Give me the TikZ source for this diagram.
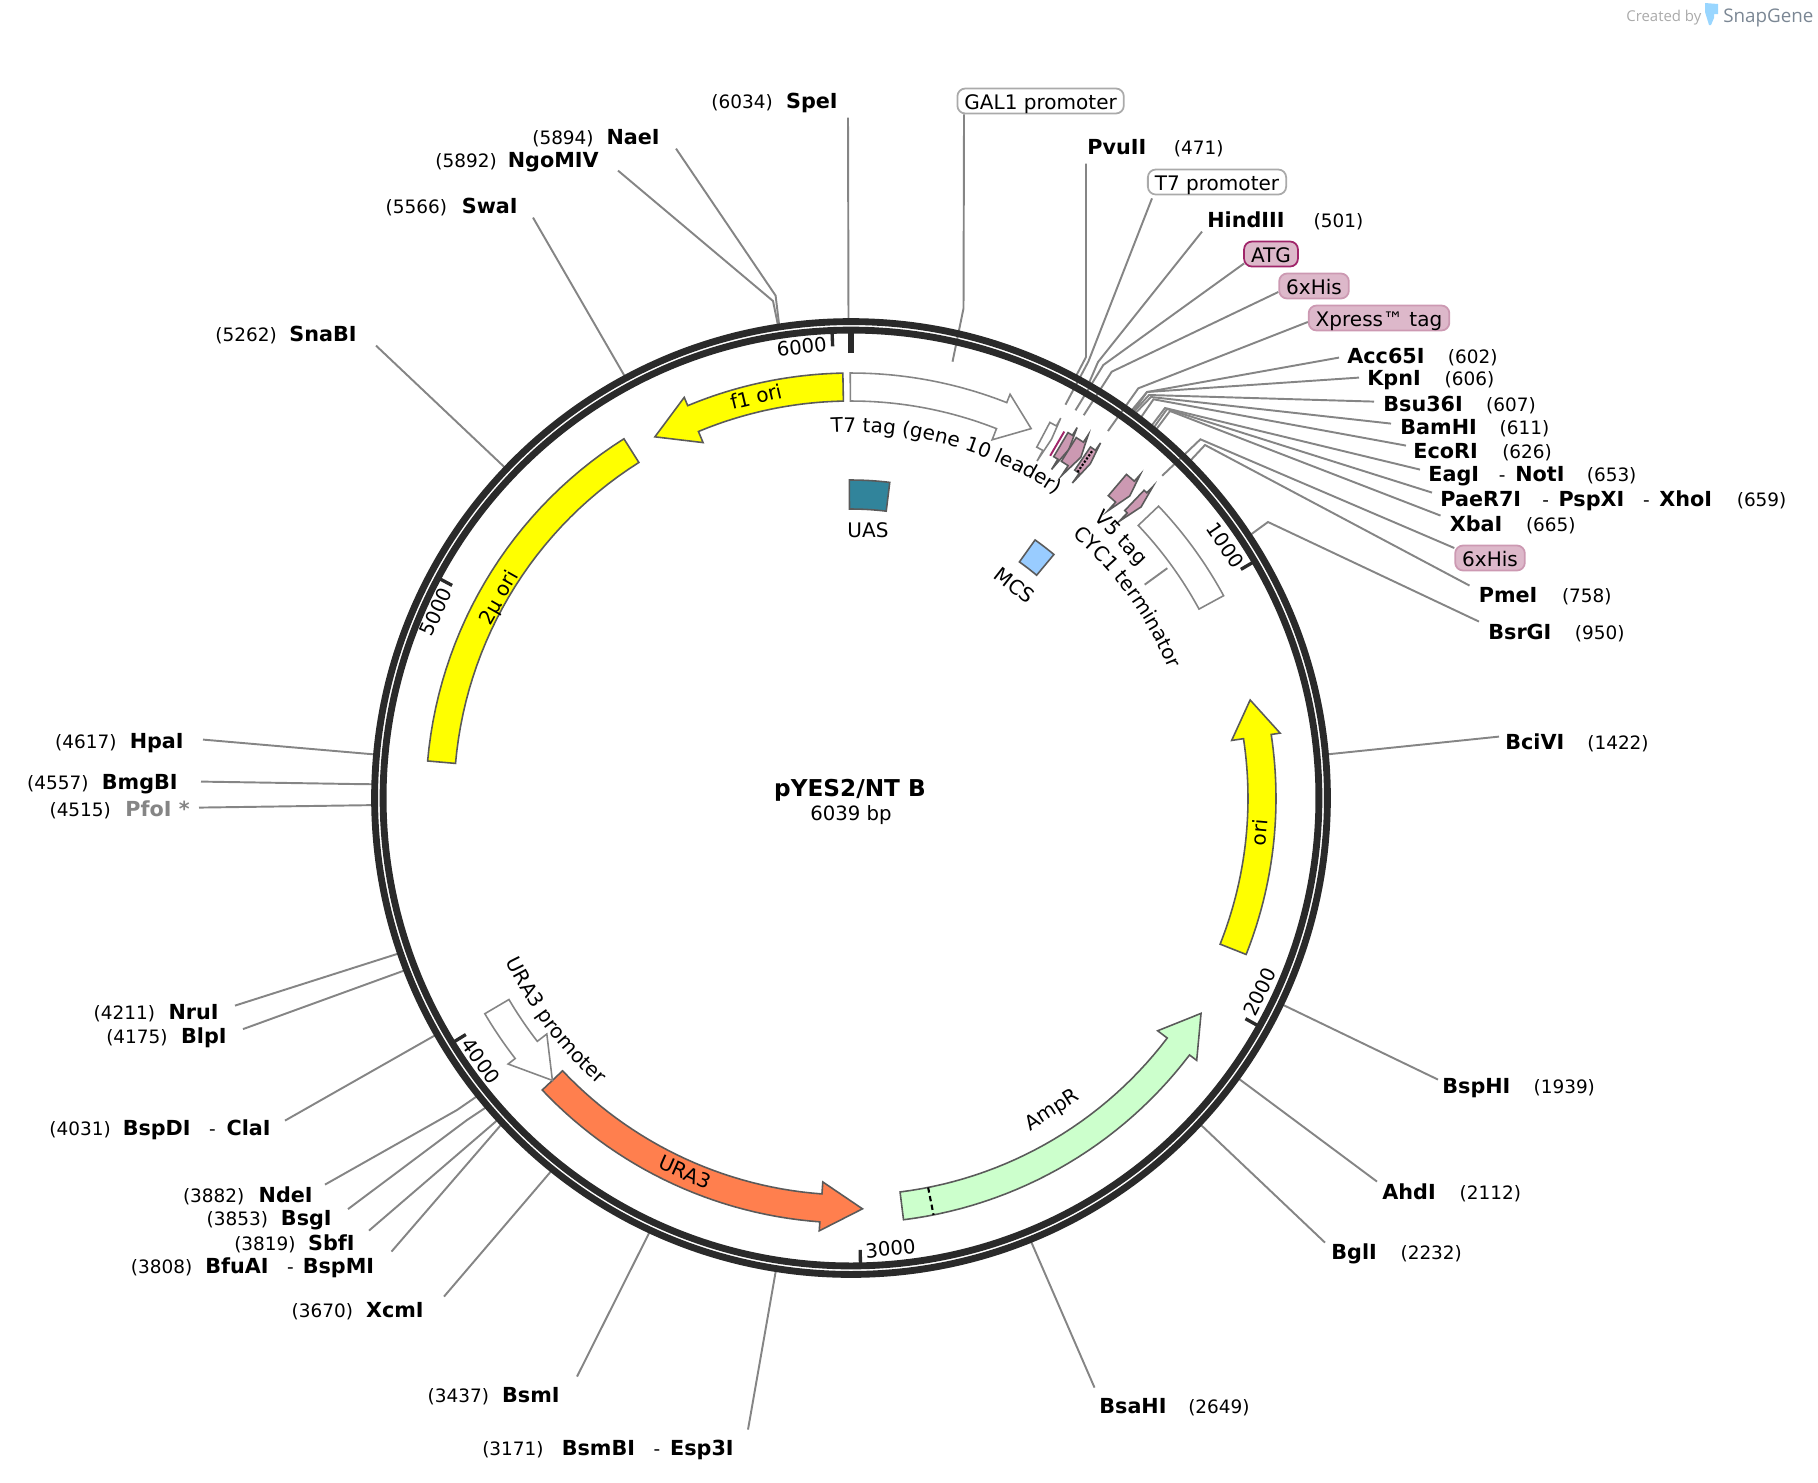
\documentclass[tikz,border=0pt]{standalone}
\usepackage{fontspec}
\setmainfont{DejaVu Sans}
\newfontfamily\logofont{Open Sans}
\usetikzlibrary{decorations.text}

% text sizes
\newcommand{\sitefont}{\fontsize{11.8}{14}\selectfont}
\newcommand{\featfont}{\fontsize{11.4}{14}\selectfont}
\newcommand{\tickfont}{\fontsize{11.2}{14}\selectfont}
\newlength{\cutwidth}
\setlength{\cutwidth}{.02319cm}
\newcommand{\nm}[2]{\makebox[#1\cutwidth][l]{\textbf{#2}}}
\newcommand{\nmr}[2]{\makebox[#1\cutwidth][r]{\textbf{#2}}}
\newcommand{\bpnum}[1]{{\fontsize{10.5}{14}\selectfont (#1)}}
\newcommand{\rgap}{\hspace{13pt}}
\newcommand{\lgap}{\hspace{7.2pt}}
\newcommand{\cutdash}{{\fontsize{10.5}{14}\selectfont\hspace{10.5pt}-\hspace{5.5pt}}}

\definecolor{ringdark}{HTML}{2A2A2A}
\definecolor{leadergray}{HTML}{858585}
\definecolor{edgegray}{HTML}{5A5A5A}
\definecolor{tagpink}{HTML}{CC99B2}
\definecolor{tagfill}{HTML}{DDB8CA}
\definecolor{atgred}{HTML}{A0256A}
\definecolor{oriyellow}{HTML}{FFFF00}
\definecolor{ampgreen}{HTML}{CCFFCC}
\definecolor{uracoral}{HTML}{FF7F4E}
\definecolor{uasteal}{HTML}{31849B}
\definecolor{mcsblue}{HTML}{99CCFF}
\definecolor{boxgray}{HTML}{AAAAAA}
\definecolor{tubeblue}{HTML}{99D6FF}
\definecolor{logogray}{HTML}{7B8794}

\tikzset{
  leader/.style={draw=leadergray, line width=1.1pt},
  ringline/.style={draw=ringdark, line width=3.9pt},
  tickline/.style={draw=ringdark, line width=1.9pt},
  sitel/.style={font=\sitefont, inner sep=0pt, anchor=east, yshift=-.9pt},
  siter/.style={font=\sitefont, inner sep=0pt, anchor=west, yshift=-.9pt},
  featbox/.style={font=\featfont, rounded corners=4.5pt, draw=#1, line width=1pt, inner xsep=.14cm, inner ysep=0pt, minimum height=.5cm, text height=10.3pt, text depth=1pt},
  tagbox/.style={featbox=tagpink, fill=tagfill},
  feat/.style={draw=edgegray, line width=.9pt, line join=miter, fill=#1},
  faint/.style={draw=leadergray, line width=.9pt, fill=#1},
  featname/.style={font=\featfont, inner sep=0pt},
  tickname/.style={font=\tickfont, inner sep=0pt}
}

% arrow feature: look, tail angle, neck angle, tip angle (clockwise from the top)
\newcommand{\featarrow}[4]{\draw[#1, shift={(851,798)}]
  plot[domain=#2:#3, samples=30] ({\x-90}:425) -- ({#3-90}:434) -- ({#4-90}:411) -- ({#3-90}:385)
  -- plot[domain=#3:#2, samples=30] ({\x-90}:397) -- cycle;}
% feature without a head: look, start, end, inner radius, outer radius
\newcommand{\featarc}[5]{\draw[#1, shift={(851,798)}]
  plot[domain=#2:#3, samples=30] ({\x-90}:#5) -- plot[domain=#3:#2, samples=30] ({\x-90}:#4) -- cycle;}
% text that bends with the ring: start, end, radius, text
\newcommand{\arctext}[4]{\path[shift={(851,798)}, decorate, decoration={text along path, text align=center, text={|\featfont|#4}}]
  plot[domain=#1:#2, samples=80] ({\x-90}:#3);}
% leaders: node, anchor, offset, bend, position in bp or angle
\newcommand{\siteline}[5]{\coordinate (#1end) at ([shift={(851,798)}]{#5/6039*360-90}:476);
  \draw[leader] ([shift={(#3)}]#1.#2) #4 -- (#1end);}
\newcommand{\featline}[5]{\coordinate (#1end) at ([shift={(851,798)}]{#5-90}:448);
  \draw[leader] ([shift={(#3)}]#1.#2) #4 -- (#1end);}
% tick on the ring
\newcommand{\ringtick}[2]{\draw[tickline, shift={(851,798)}] ({#1/6039*360-90}:#2) -- ({#1/6039*360-90}:466);}

\begin{document}
\begin{tikzpicture}[x=.02cm, y=-.02cm]
  \useasboundingbox (0,0) rectangle (1818,1482);

  % Enzyme labels on the right
  \node[siter] (pvuii) at (1087,147) {\nm{55}{PvuII}\rgap\bpnum{471}};
  \node[siter] (hindiii) at (1207,219) {\nm{72}{HindIII}\rgap\bpnum{501}};
  \node[siter] (acc) at (1347,355) {\nm{67}{Acc65I}\rgap\bpnum{602}};
  \node[siter] (kpni) at (1367,379) {\nm{47}{KpnI}\rgap\bpnum{606}};
  \node[siter] (bsu) at (1383,403) {\nm{69}{Bsu36I}\rgap\bpnum{607}};
  \node[siter] (bamhi) at (1400,427) {\nm{66}{BamHI}\rgap\bpnum{611}};
  \node[siter] (ecori) at (1413,451) {\nm{57}{EcoRI}\rgap\bpnum{626}};
  \node[siter] (eagi) at (1428,475) {\nm{45}{EagI}\cutdash\nm{42}{NotI}\rgap\bpnum{653}};
  \node[siter] (paer) at (1440,499) {\nm{72}{PaeR7I}\cutdash\nm{57}{PspXI}\cutdash\nm{47}{XhoI}\rgap\bpnum{659}};
  \node[siter] (xbai) at (1449.5,523) {\nm{46}{XbaI}\rgap\bpnum{665}};
  \node[siter] (pmei) at (1478.5,595) {\nm{52}{PmeI}\rgap\bpnum{758}};
  \node[siter] (bsrgi) at (1488,631) {\nm{55}{BsrGI}\rgap\bpnum{950}};
  \node[siter] (bcivi) at (1505,741) {\nm{51}{BciVI}\rgap\bpnum{1422}};
  \node[siter] (bsphi) at (1442,1086) {\nm{59}{BspHI}\rgap\bpnum{1939}};
  \node[siter] (ahdi) at (1382,1191) {\nm{47}{AhdI}\rgap\bpnum{2112}};
  \node[siter] (bgli) at (1331,1252) {\nm{40}{BglI}\rgap\bpnum{2232}};
  \node[siter] (bsahi) at (1099,1406) {\nm{57}{BsaHI}\rgap\bpnum{2649}};

  % Enzyme labels on the left
  \node[sitel] (hpai) at (184,742) {\bpnum{4617}\lgap\nmr{47}{HpaI}};
  \node[sitel] (bmgbi) at (178,783) {\bpnum{4557}\lgap\nmr{66}{BmgBI}};
  \node[sitel] (pfoi) at (190,808) {\bpnum{4515}\lgap\nmr{57}{\textcolor{leadergray}{PfoI *}}};
  \node[sitel] (nrui) at (219,1012) {\bpnum{4211}\lgap\nmr{44}{NruI}};
  \node[sitel] (blpi) at (227,1036.5) {\bpnum{4175}\lgap\nmr{40}{BlpI}};
  \node[sitel] (clai) at (271,1128) {\bpnum{4031}\lgap\nmr{58}{BspDI}\cutdash\nmr{39}{ClaI}};
  \node[sitel] (ndei) at (313,1194) {\bpnum{3882}\lgap\nmr{48}{NdeI}};
  \node[sitel] (bsgi) at (332,1218.5) {\bpnum{3853}\lgap\nmr{44}{BsgI}};
  \node[sitel] (sbfi) at (355,1242) {\bpnum{3819}\lgap\nmr{40}{SbfI}};
  \node[sitel] (bspmi) at (374.5,1266) {\bpnum{3808}\lgap\nmr{55}{BfuAI}\cutdash\nmr{61}{BspMI}};
  \node[sitel] (xcmi) at (424,1310) {\bpnum{3670}\lgap\nmr{50}{XcmI}};
  \node[sitel] (bsmi) at (560,1395) {\bpnum{3437}\lgap\nmr{50}{BsmI}};
  \node[sitel] (esp) at (734,1448) {\bpnum{3171}\lgap\nmr{68}{BsmBI}\cutdash\nmr{55}{Esp3I}};
  \node[sitel] (snabi) at (357,333) {\bpnum{5262}\lgap\nmr{58}{SnaBI}};
  \node[sitel] (swai) at (518,205) {\bpnum{5566}\lgap\nmr{50}{SwaI}};
  \node[sitel] (ngo) at (599,161) {\bpnum{5892}\lgap\nmr{77}{NgoMIV}};
  \node[sitel] (naei) at (660,137) {\bpnum{5894}\lgap\nmr{46}{NaeI}};
  \node[sitel] (spei) at (838,101) {\bpnum{6034}\lgap\nmr{45}{SpeI}};

  % Feature labels in boxes
  \node[featbox=boxgray, fill=white] (galbox) at (1040.6,101) {GAL1 promoter};
  \node[featbox=boxgray, fill=white] (tsevbox) at (1217,182) {T7 promoter};
  \node[featbox=atgred, fill=tagfill] (atgbox) at (1271,254) {ATG};
  \node[tagbox] (hisbox) at (1314,286) {6xHis};
  \node[tagbox] (xpressbox) at (1379,318) {Xpress™ tag};
  \node[tagbox] (hisboxb) at (1490,558) {6xHis};

  % Leaders of the enzymes
  \siteline{pvuii}{west}{-1,15}{-- (1086,357)}{471}
  \siteline{hindiii}{west}{-5,11}{-- (1098,362)}{501}
  \siteline{acc}{west}{-8,1}{-- (1147,392)}{602}
  \siteline{kpni}{west}{-8,-3}{-- (1147,392)}{606}
  \siteline{bsu}{west}{-9,-3}{-- (1149,395)}{607}
  \siteline{bamhi}{west}{-9,-5}{-- (1151,397)}{611}
  \siteline{ecori}{west}{-7,-7}{-- (1153.5,399.3)}{626}
  \siteline{eagi}{west}{-8,-7}{-- (1165,408)}{653}
  \siteline{paer}{west}{-8,-8}{-- (1167,409)}{659}
  \siteline{xbai}{west}{-9,-9}{-- (1170,411)}{665}
  \siteline{pmei}{west}{-9,-11}{-- (1205,445)}{758}
  \siteline{bsrgi}{west}{-9,-11}{-- (1268,522)}{950}
  \siteline{bcivi}{west}{-6,-6}{}{1422}
  \siteline{bsphi}{west}{-4,-8}{}{1939}
  \siteline{ahdi}{west}{-5,-11}{}{2112}
  \siteline{bgli}{west}{-6,-11}{}{2232}
  \siteline{bsahi}{west}{-4.5,-20}{}{2649}
  \siteline{hpai}{east}{19,-4}{}{4617}
  \siteline{bmgbi}{east}{23,-3}{-- (353,784)}{4557}
  \siteline{pfoi}{east}{9,-2}{}{4515}
  \siteline{nrui}{east}{16,-8}{}{4211}
  \siteline{blpi}{east}{16,-9}{}{4175}
  \siteline{clai}{east}{14,-9}{}{4031}
  \siteline{ndei}{east}{12,-11}{-- (457,1110)}{3882}
  \siteline{bsgi}{east}{16,-11}{-- (467,1120)}{3853}
  \siteline{sbfi}{east}{14,-13}{}{3819}
  \siteline{bspmi}{east}{17,-16}{}{3808}
  \siteline{xcmi}{east}{20,-15}{}{3670}
  \siteline{bsmi}{east}{17,-20}{}{3437}
  \siteline{esp}{east}{14,-20}{-- (775.6,1272)}{3171}
  \siteline{snabi}{east}{19,11}{}{5262}
  \siteline{swai}{east}{15,11}{}{5566}
  \siteline{ngo}{east}{19,8}{-- (773,301)}{5892}
  \siteline{naei}{east}{16,10}{-- (775.6,295.6)}{5894}
  \siteline{spei}{east}{10,15}{}{6034}

  % Leaders of the features
  \featline{galbox}{south west}{7.5,0}{-- (963.5,308.4)}{13.1}
  \featline{tsevbox}{south west}{5,3}{-- (1088.3,361.7)}{28.6}
  \featline{atgbox}{south west}{1,-4}{-- (1103.3,365)}{30.07}
  \featline{hisbox}{west}{0,6}{-- (1111.7,371.7)}{31.3}
  \featline{xpressbox}{west}{0,4}{-- (1138.3,388.3)}{35}
  \featline{hisboxb}{west}{0,-10}{-- (1200.4,439.3)}{44}

  % Backbone
  \draw[ringline] (851,798) circle [radius=9.53cm];
  \draw[ringline] (851,798) circle [radius=9.36cm];

  % Ticks with their numbers
  \draw[ringdark, line width=3.4pt, shift={(851,798)}] (-90:445) -- (-90:468);
  \ringtick{1000}{452}
  \ringtick{2000}{452}
  \ringtick{3000}{452}
  \ringtick{4000}{452}
  \ringtick{5000}{452}
  \ringtick{6000}{452}
  \node[tickname, rotate=-56] (tickb) at (1225.5,545) {1000};
  \node[tickname, rotate=64] (tickc) at (1260,992) {2000};
  \node[tickname, rotate=5] (tickd) at (890.5,1248.7) {3000};
  \node[tickname, rotate=-54.6] (ticke) at (481,1061) {4000};
  \node[tickname, rotate=65.6] (tickf) at (435.7,611.7) {5000};
  \node[tickname, rotate=6] (tickg) at (801.7,346.7) {6000};

  % Large features
  \featarrow{feat=oriyellow}{-1.1}{-22.6}{-28.5}
  \featarrow{faint=white}{-0.1}{21.5}{26}
  \featarc{feat=oriyellow}{-32.3}{-85}{397}{425}
  \featarrow{feat=oriyellow}{111.6}{81.4}{76.2}
  \featarrow{feat=ampgreen}{172.9}{127.2}{121.6}
  \featarrow{feat=uracoral}{226.6}{184.2}{178.4}
  \featarrow{faint=white}{239.5}{232.2}{226.6}
  \featarc{faint=white}{46.5}{61.5}{396}{424}
  \featarc{feat=uasteal}{-0.3}{7}{289}{318}
  \featarc{feat=mcsblue}{35.5}{39.8}{290}{317}
  \draw[black, line width=1.2pt, densely dashed, shift={(851,798)}] (168.8-90:397) -- (168.8-90:425);

  % Small features of the cloning site
  \featarrow{faint=white}{27.9}{28.9}{29.2}
  \draw[atgred, line width=1.1pt, shift={(851,798)}] (30.2-90:396) -- (30.2-90:424);
  \featarrow{feat=tagpink}{30.7}{31.4}{32}
  \featarrow{feat=tagpink}{32}{33.15}{34}
  \featarrow{feat=tagpink}{34.3}{35.1}{35.6}
  \draw[black, line width=1.2pt, densely dotted, shift={(851,798)}] (34.8-90:397) -- (34.8-90:423);
  \featarrow{feat=tagpink}{40.4}{41.8}{42.7}
  \featarrow{feat=tagpink}{43.6}{44.1}{44.9}

  % Labels on and beside the features
  \node[featname, rotate=13.3] (fori) at (756,396.5) {f1 ori};
  \node[featname, rotate=60.4] (twomu) at (499.7,598.3) {2µ ori};
  \node[featname, rotate=85] (ori) at (1259,832.5) {ori};
  \node[featname, rotate=32.8] (ampr) at (1052.7,1110.7) {AmpR};
  \node[featname, rotate=-23.9] (uratext) at (685.2,1172.1) {URA3};
  \node[featname, rotate=-46.3] (vfive) at (1120,539) {V5 tag};
  \node[featname] (uas) at (868,530) {UAS};
  \node[featname, rotate=-38] (mcs) at (1014.5,585.5) {MCS};
  \arctext{-15}{46}{366}{T7 tag (gene 10 leader)}
  \arctext{20}{88}{343}{CYC1 terminator}
  \arctext{260}{206}{382}{URA3 promoter}
  \coordinate (cycin) at ([shift={(851,798)}]-36:363);
  \coordinate (cycout) at ([shift={(851,798)}]-36:391);
  \draw[leader] (cycin) -- (cycout);

  % Name in the middle
  \node[font=\fontsize{13.2}{16}\selectfont\bfseries, inner sep=0pt] (plasmid) at (850,790) {pYES2/NT B};
  \node[font=\fontsize{11.2}{14}\selectfont, inner sep=0pt] (plength) at (851,815) {6039 bp};

  % Maker mark
  \node[font=\logofont\fontsize{8.5}{10}\selectfont, text=boxgray, anchor=west, inner sep=0pt] (madeby) at (1626,18) {Created by};
  \draw[fill=tubeblue, draw=none] (1705,3) -- (1718,4) -- (1718,14) -- (1714,14) -- (1714,18) -- (1711,25) -- (1709,25) -- (1705,12) -- cycle;
  \node[font=\logofont\fontsize{10.7}{12}\selectfont, text=logogray, anchor=west, inner sep=0pt] (snapgene) at (1723,18) {SnapGene};
\end{tikzpicture}
\end{document}
